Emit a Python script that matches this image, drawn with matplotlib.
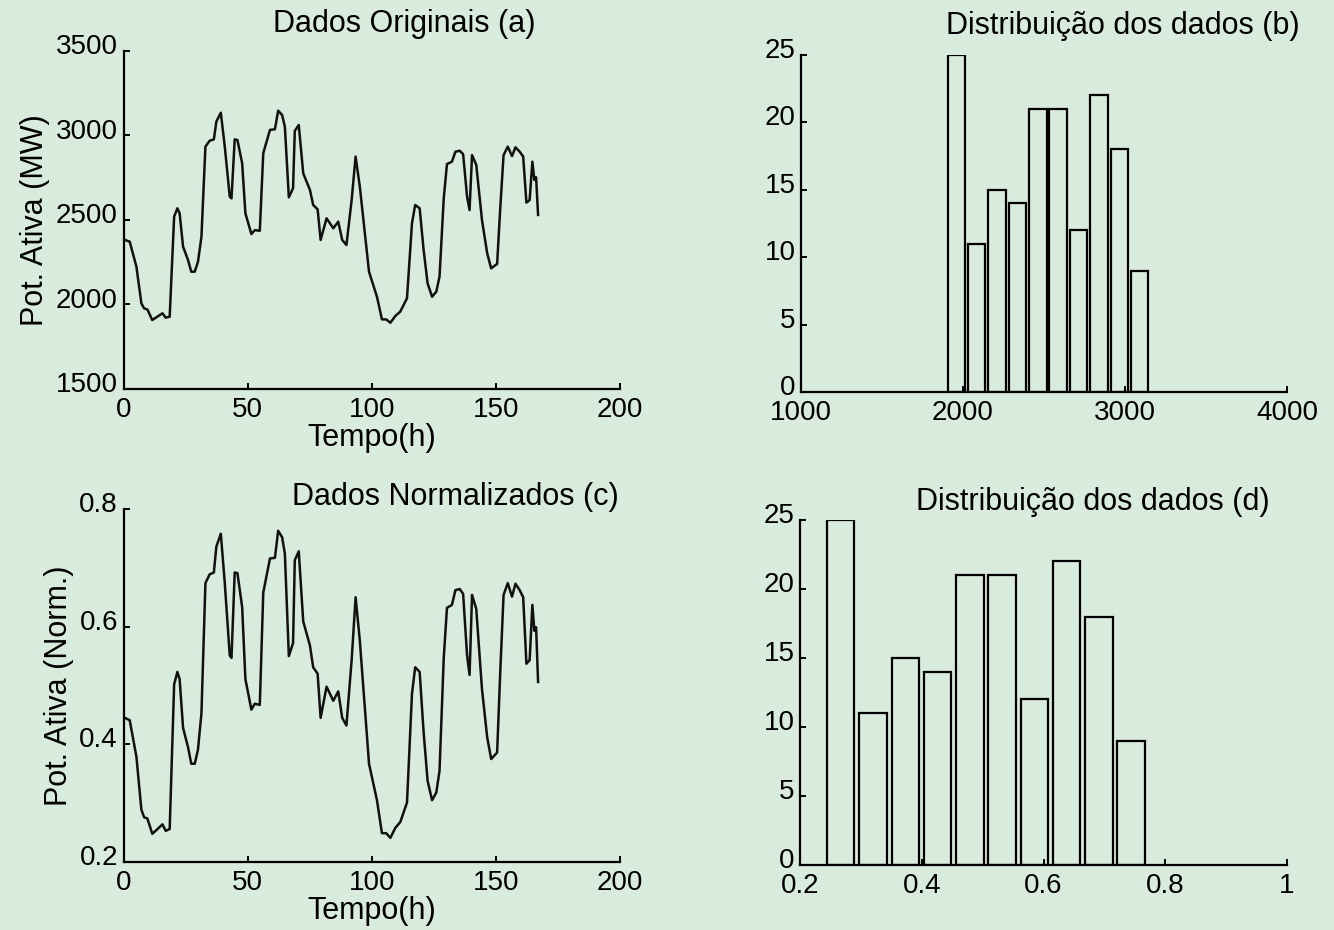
import numpy as np
import matplotlib.pyplot as plt
import matplotlib.transforms as mtransforms

plt.rcParams['font.family'] = ['Liberation Sans', 'DejaVu Sans']

# Carga horaria ao longo da semana (vertices da curva)
tempo_h = [0, 2.5, 5.2, 7.2, 8.3, 9.6, 11.6, 13.2, 15.7, 17.0, 18.6, 20.4, 21.7, 22.6,
           24.0, 26.0, 27.3, 28.7, 30.0, 31.4, 33.0, 34.7, 36.4, 37.4, 39.2, 40.8, 42.8,
           43.5, 44.8, 45.9, 47.8, 49.1, 51.5, 52.9, 54.9, 56.3, 59.0, 61.0, 62.3, 63.9,
           65.0, 66.6, 68.3, 69.0, 70.6, 72.4, 75.1, 76.4, 78.2, 79.4, 81.8, 84.5, 86.5,
           88.1, 89.8, 91.9, 93.5, 95.2, 98.9, 102.1, 104.1, 105.8, 107.5, 109.5, 111.5,
           114.2, 116.2, 117.5, 119.3, 120.9, 122.5, 124.3, 126.0, 127.3, 129.0, 130.3,
           132.3, 133.7, 135.4, 136.8, 138.4, 139.4, 140.4, 142.1, 144.4, 146.5, 148.1,
           150.5, 151.8, 153.1, 154.8, 156.5, 157.9, 159.6, 161.0, 162.3, 163.6, 164.7,
           165.5, 166.2, 167.0]

potencia_mw = [2385, 2372, 2224, 2007, 1977, 1971, 1908, 1924, 1948, 1922, 1928, 2520, 2569,
               2540, 2342, 2263, 2194, 2194, 2253, 2401, 2934, 2969, 2977, 3082, 3135, 2934,
               2638, 2628, 2977, 2973, 2835, 2540, 2417, 2440, 2436, 2895, 3033, 3037, 3147,
               3121, 3052, 2634, 2688, 3027, 3062, 2776, 2678, 2589, 2563, 2382, 2510, 2451,
               2490, 2382, 2352, 2618, 2875, 2697, 2194, 2046, 1912, 1912, 1892, 1932, 1958,
               2037, 2480, 2589, 2569, 2322, 2125, 2046, 2076, 2165, 2628, 2831, 2845, 2904,
               2910, 2890, 2638, 2559, 2884, 2826, 2500, 2303, 2214, 2240, 2579, 2884, 2934,
               2878, 2930, 2904, 2875, 2603, 2618, 2845, 2737, 2753, 2530]

potencia_norm = [0.446, 0.441, 0.379, 0.289, 0.276, 0.274, 0.248, 0.254, 0.264, 0.253, 0.256,
                 0.502, 0.523, 0.511, 0.428, 0.395, 0.367, 0.367, 0.391, 0.453, 0.674, 0.689,
                 0.692, 0.736, 0.758, 0.674, 0.551, 0.547, 0.692, 0.691, 0.633, 0.511, 0.459,
                 0.469, 0.467, 0.658, 0.716, 0.717, 0.763, 0.752, 0.724, 0.550, 0.572, 0.713,
                 0.728, 0.609, 0.568, 0.531, 0.520, 0.445, 0.498, 0.474, 0.490, 0.445, 0.432,
                 0.543, 0.650, 0.576, 0.367, 0.305, 0.249, 0.249, 0.241, 0.258, 0.268, 0.301,
                 0.486, 0.531, 0.523, 0.420, 0.338, 0.305, 0.318, 0.355, 0.547, 0.632, 0.637,
                 0.662, 0.664, 0.656, 0.551, 0.518, 0.654, 0.630, 0.494, 0.412, 0.375, 0.386,
                 0.527, 0.654, 0.674, 0.651, 0.673, 0.662, 0.650, 0.537, 0.543, 0.637, 0.593,
                 0.599, 0.506]

# Histogramas (10 classes)
contagem = [25, 11, 15, 14, 21, 21, 12, 22, 18, 9]
centros_mw = [1959, 2085, 2210, 2336, 2462, 2587, 2713, 2839, 2964, 3090]
centros_norm = [0.267, 0.320, 0.373, 0.426, 0.479, 0.532, 0.585, 0.638, 0.691, 0.744]

FUNDO = '#d8ebdc'
W, H = 1334, 930


def estilo(ax):
    ax.set_facecolor('none')
    for s in ['top', 'right']:
        ax.spines[s].set_visible(False)
    for s in ['left', 'bottom']:
        ax.spines[s].set_linewidth(1.6)
        ax.spines[s].set_color('black')
    ax.tick_params(direction='in', length=4, width=1.4, labelsize=20, pad=4,
                   colors='black')
    ax.tick_params(axis='x', pad=6)
    # rotulos do eixo y um pouco acima do traco, como no estilo MATLAB
    sobe = mtransforms.ScaledTranslation(0, 5 / 72, fig.dpi_scale_trans)
    for lbl in ax.get_yticklabels():
        lbl.set_transform(lbl.get_transform() + sobe)


def eixo(l, t, r, b):
    # coordenadas em pixels -> fração da figura
    return fig.add_axes([l / W, 1 - b / H, (r - l) / W, (b - t) / H])


def titulo(x, y, txt):
    fig.text(x / W, 1 - y / H, txt, ha='center', va='center', fontsize=22)


fig = plt.figure(figsize=(W / 100, H / 100), dpi=100)
fig.patch.set_facecolor(FUNDO)

# (a) dados originais
ax1 = eixo(123.5, 51, 620, 389)
ax1.plot(tempo_h, potencia_mw, color='#111111', lw=1.8)
ax1.set_xlim(0, 200)
ax1.set_ylim(1500, 3500)
ax1.set_xticks([0, 50, 100, 150, 200])
ax1.set_yticks([1500, 2000, 2500, 3000, 3500])
ax1.set_xlabel('Tempo(h)', fontsize=22, labelpad=0)
ax1.set_ylabel('Pot. Ativa (MW)', fontsize=22, labelpad=4)
estilo(ax1)
titulo(404, 24, 'Dados Originais (a)')

# (b) histograma dos dados originais
ax2 = eixo(801, 55, 1287, 392)
ax2.bar(centros_mw, contagem, width=107, facecolor='none', edgecolor='black', lw=1.6)
ax2.set_xlim(1000, 4000)
ax2.set_ylim(0, 25)
ax2.set_xticks([1000, 2000, 3000, 4000])
ax2.set_yticks([0, 5, 10, 15, 20, 25])
estilo(ax2)
titulo(1123, 26, 'Distribuição dos dados (b)')

# (c) dados normalizados
ax3 = eixo(123.5, 509, 620, 862)
ax3.plot(tempo_h, potencia_norm, color='#111111', lw=1.8)
ax3.set_xlim(0, 200)
ax3.set_ylim(0.2, 0.8)
ax3.set_xticks([0, 50, 100, 150, 200])
ax3.set_yticks([0.2, 0.4, 0.6, 0.8])
ax3.set_xlabel('Tempo(h)', fontsize=22, labelpad=0)
ax3.set_ylabel('Pot. Ativa (Norm.)', fontsize=22, labelpad=4)
estilo(ax3)
titulo(455, 497, 'Dados Normalizados (c)')

# (d) histograma dos dados normalizados
ax4 = eixo(800, 520, 1287, 865)
ax4.bar(centros_norm, contagem, width=0.045, facecolor='none', edgecolor='black', lw=1.6)
ax4.set_xlim(0.2, 1)
ax4.set_ylim(0, 25)
ax4.set_xticks([0.2, 0.4, 0.6, 0.8, 1])
ax4.set_xticklabels(['0.2', '0.4', '0.6', '0.8', '1'])
ax4.set_yticks([0, 5, 10, 15, 20, 25])
estilo(ax4)
titulo(1093, 502, 'Distribuição dos dados (d)')

fig.savefig('out.png', dpi=100, facecolor=FUNDO)
